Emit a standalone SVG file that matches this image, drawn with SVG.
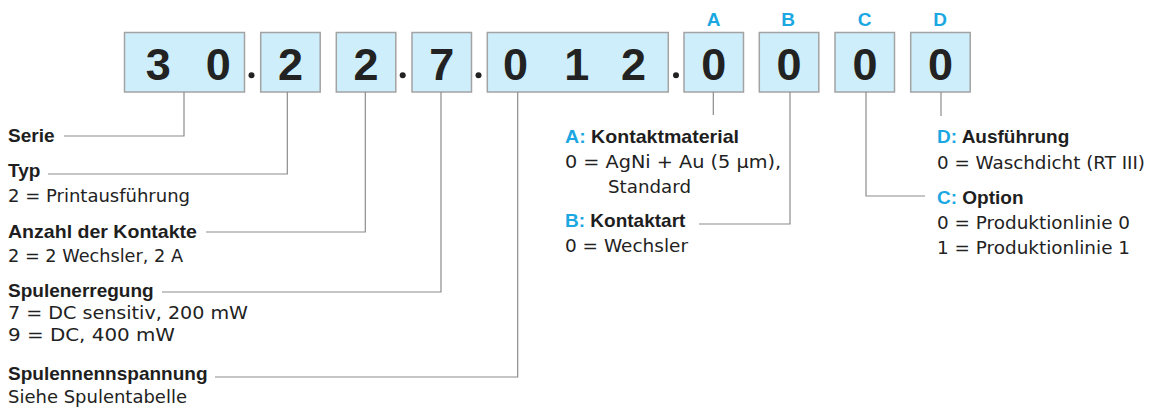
<svg xmlns="http://www.w3.org/2000/svg" width="1149" height="416" viewBox="0 0 1149 416">
<style>
.box{fill:#cdeefa;stroke:#a3a3a3;stroke-width:1.5}
.dig{font-family:"Liberation Sans",Arial,sans-serif;font-weight:bold;font-size:45px;fill:#222;text-anchor:middle}
.let{font-family:"Liberation Sans",Arial,sans-serif;font-weight:bold;font-size:19px;fill:#1aa7e2;text-anchor:middle}
.dot{fill:#222}
.h{font-family:"Liberation Sans",Arial,sans-serif;font-weight:bold;font-size:19px;fill:#1e1e1e}
.b{font-family:"DejaVu Sans","Liberation Sans",sans-serif;font-size:18px;fill:#222}
.c{fill:#1aa7e2}
.ln{fill:none;stroke:#8c8c8c;stroke-width:1.2}
</style>
<rect width="1149" height="416" fill="#fff"/>
<g id="labels-top">
<text class="let" x="713.5" y="26">A</text>
<text class="let" x="788" y="26">B</text>
<text class="let" x="864.5" y="26">C</text>
<text class="let" x="940" y="26">D</text>
</g>
<g id="box-serie"><rect class="box" x="124.5" y="32.5" width="120" height="59.5"/><text class="dig" x="158.3" y="79.5">3</text><text class="dig" x="218.3" y="79.5">0</text></g>
<g id="box-typ"><rect class="box" x="260.7" y="32.5" width="59.5" height="59.5"/><text class="dig" x="290.4" y="79.5">2</text></g>
<g id="box-kontakte"><rect class="box" x="336.3" y="32.5" width="59.5" height="59.5"/><text class="dig" x="366" y="79.5">2</text></g>
<g id="box-erregung"><rect class="box" x="412" y="32.5" width="59.5" height="59.5"/><text class="dig" x="441.8" y="79.5">7</text></g>
<g id="box-spannung"><rect class="box" x="487.3" y="32.5" width="181" height="59.5"/><text class="dig" x="515.5" y="79.5">0</text><text class="dig" x="576.7" y="79.5">1</text><text class="dig" x="633.5" y="79.5">2</text></g>
<g id="box-a"><rect class="box" x="684" y="32.5" width="59.5" height="59.5"/><text class="dig" x="713.8" y="79.5">0</text></g>
<g id="box-b"><rect class="box" x="759.3" y="32.5" width="59.5" height="59.5"/><text class="dig" x="789" y="79.5">0</text></g>
<g id="box-c"><rect class="box" x="835" y="32.5" width="59.5" height="59.5"/><text class="dig" x="865" y="79.5">0</text></g>
<g id="box-d"><rect class="box" x="910.7" y="32.5" width="59.5" height="59.5"/><text class="dig" x="940.5" y="79.5">0</text></g>
<g id="dots">
<circle class="dot" cx="251.5" cy="75.3" r="3"/>
<circle class="dot" cx="402.7" cy="75.3" r="3"/>
<circle class="dot" cx="478.5" cy="75.3" r="3"/>
<circle class="dot" cx="676" cy="75.3" r="3"/>
</g>
<g id="connectors">
<polyline class="ln" points="184,92 184,136 64,136"/>
<polyline class="ln" points="287.3,92 287.3,174 48,174"/>
<polyline class="ln" points="365.3,92 365.3,232 206,232"/>
<polyline class="ln" points="441,92 441,292 162,292"/>
<polyline class="ln" points="517.7,92 517.7,377 215,377"/>
<line class="ln" x1="713.3" y1="92" x2="713.3" y2="115"/>
<polyline class="ln" points="790,92 790,224 699,224"/>
<polyline class="ln" points="866,92 866,196 925,196"/>
<line class="ln" x1="941" y1="92" x2="941" y2="116"/>
</g>
<g id="node-serie"><text class="h" x="8" y="142">Serie</text></g>
<g id="node-typ"><text class="h" x="8" y="177">Typ</text><text class="b" x="8" y="202" textLength="182" lengthAdjust="spacingAndGlyphs">2 = Printausführung</text></g>
<g id="node-kontakte"><text class="h" x="8" y="238" textLength="189" lengthAdjust="spacingAndGlyphs">Anzahl der Kontakte</text><text class="b" x="8" y="262" textLength="175" lengthAdjust="spacingAndGlyphs">2 = 2 Wechsler, 2 A</text></g>
<g id="node-erregung"><text class="h" x="8" y="297">Spulenerregung</text><text class="b" x="8" y="319" textLength="240" lengthAdjust="spacingAndGlyphs">7 = DC sensitiv, 200 mW</text><text class="b" x="8" y="341" textLength="167" lengthAdjust="spacingAndGlyphs">9 = DC, 400 mW</text></g>
<g id="node-spannung"><text class="h" x="8" y="380">Spulennennspannung</text><text class="b" x="8" y="403" textLength="179" lengthAdjust="spacingAndGlyphs">Siehe Spulentabelle</text></g>
<g id="node-a"><text class="h" x="565" y="143" textLength="174" lengthAdjust="spacingAndGlyphs"><tspan class="c">A:</tspan> Kontaktmaterial</text><text class="b" x="565" y="168" textLength="216" lengthAdjust="spacingAndGlyphs">0 = AgNi + Au (5 µm),</text><text class="b" x="608" y="193" textLength="83" lengthAdjust="spacingAndGlyphs">Standard</text></g>
<g id="node-b"><text class="h" x="565" y="227"><tspan class="c">B:</tspan> Kontaktart</text><text class="b" x="565" y="252" textLength="123" lengthAdjust="spacingAndGlyphs">0 = Wechsler</text></g>
<g id="node-d"><text class="h" x="937" y="143"><tspan class="c">D:</tspan> Ausführung</text><text class="b" x="937" y="169" textLength="208" lengthAdjust="spacingAndGlyphs">0 = Waschdicht (RT III)</text></g>
<g id="node-c"><text class="h" x="937" y="204"><tspan class="c">C:</tspan> Option</text><text class="b" x="937" y="229" textLength="193" lengthAdjust="spacingAndGlyphs">0 = Produktionlinie 0</text><text class="b" x="937" y="254" textLength="193" lengthAdjust="spacingAndGlyphs">1 = Produktionlinie 1</text></g>
</svg>
